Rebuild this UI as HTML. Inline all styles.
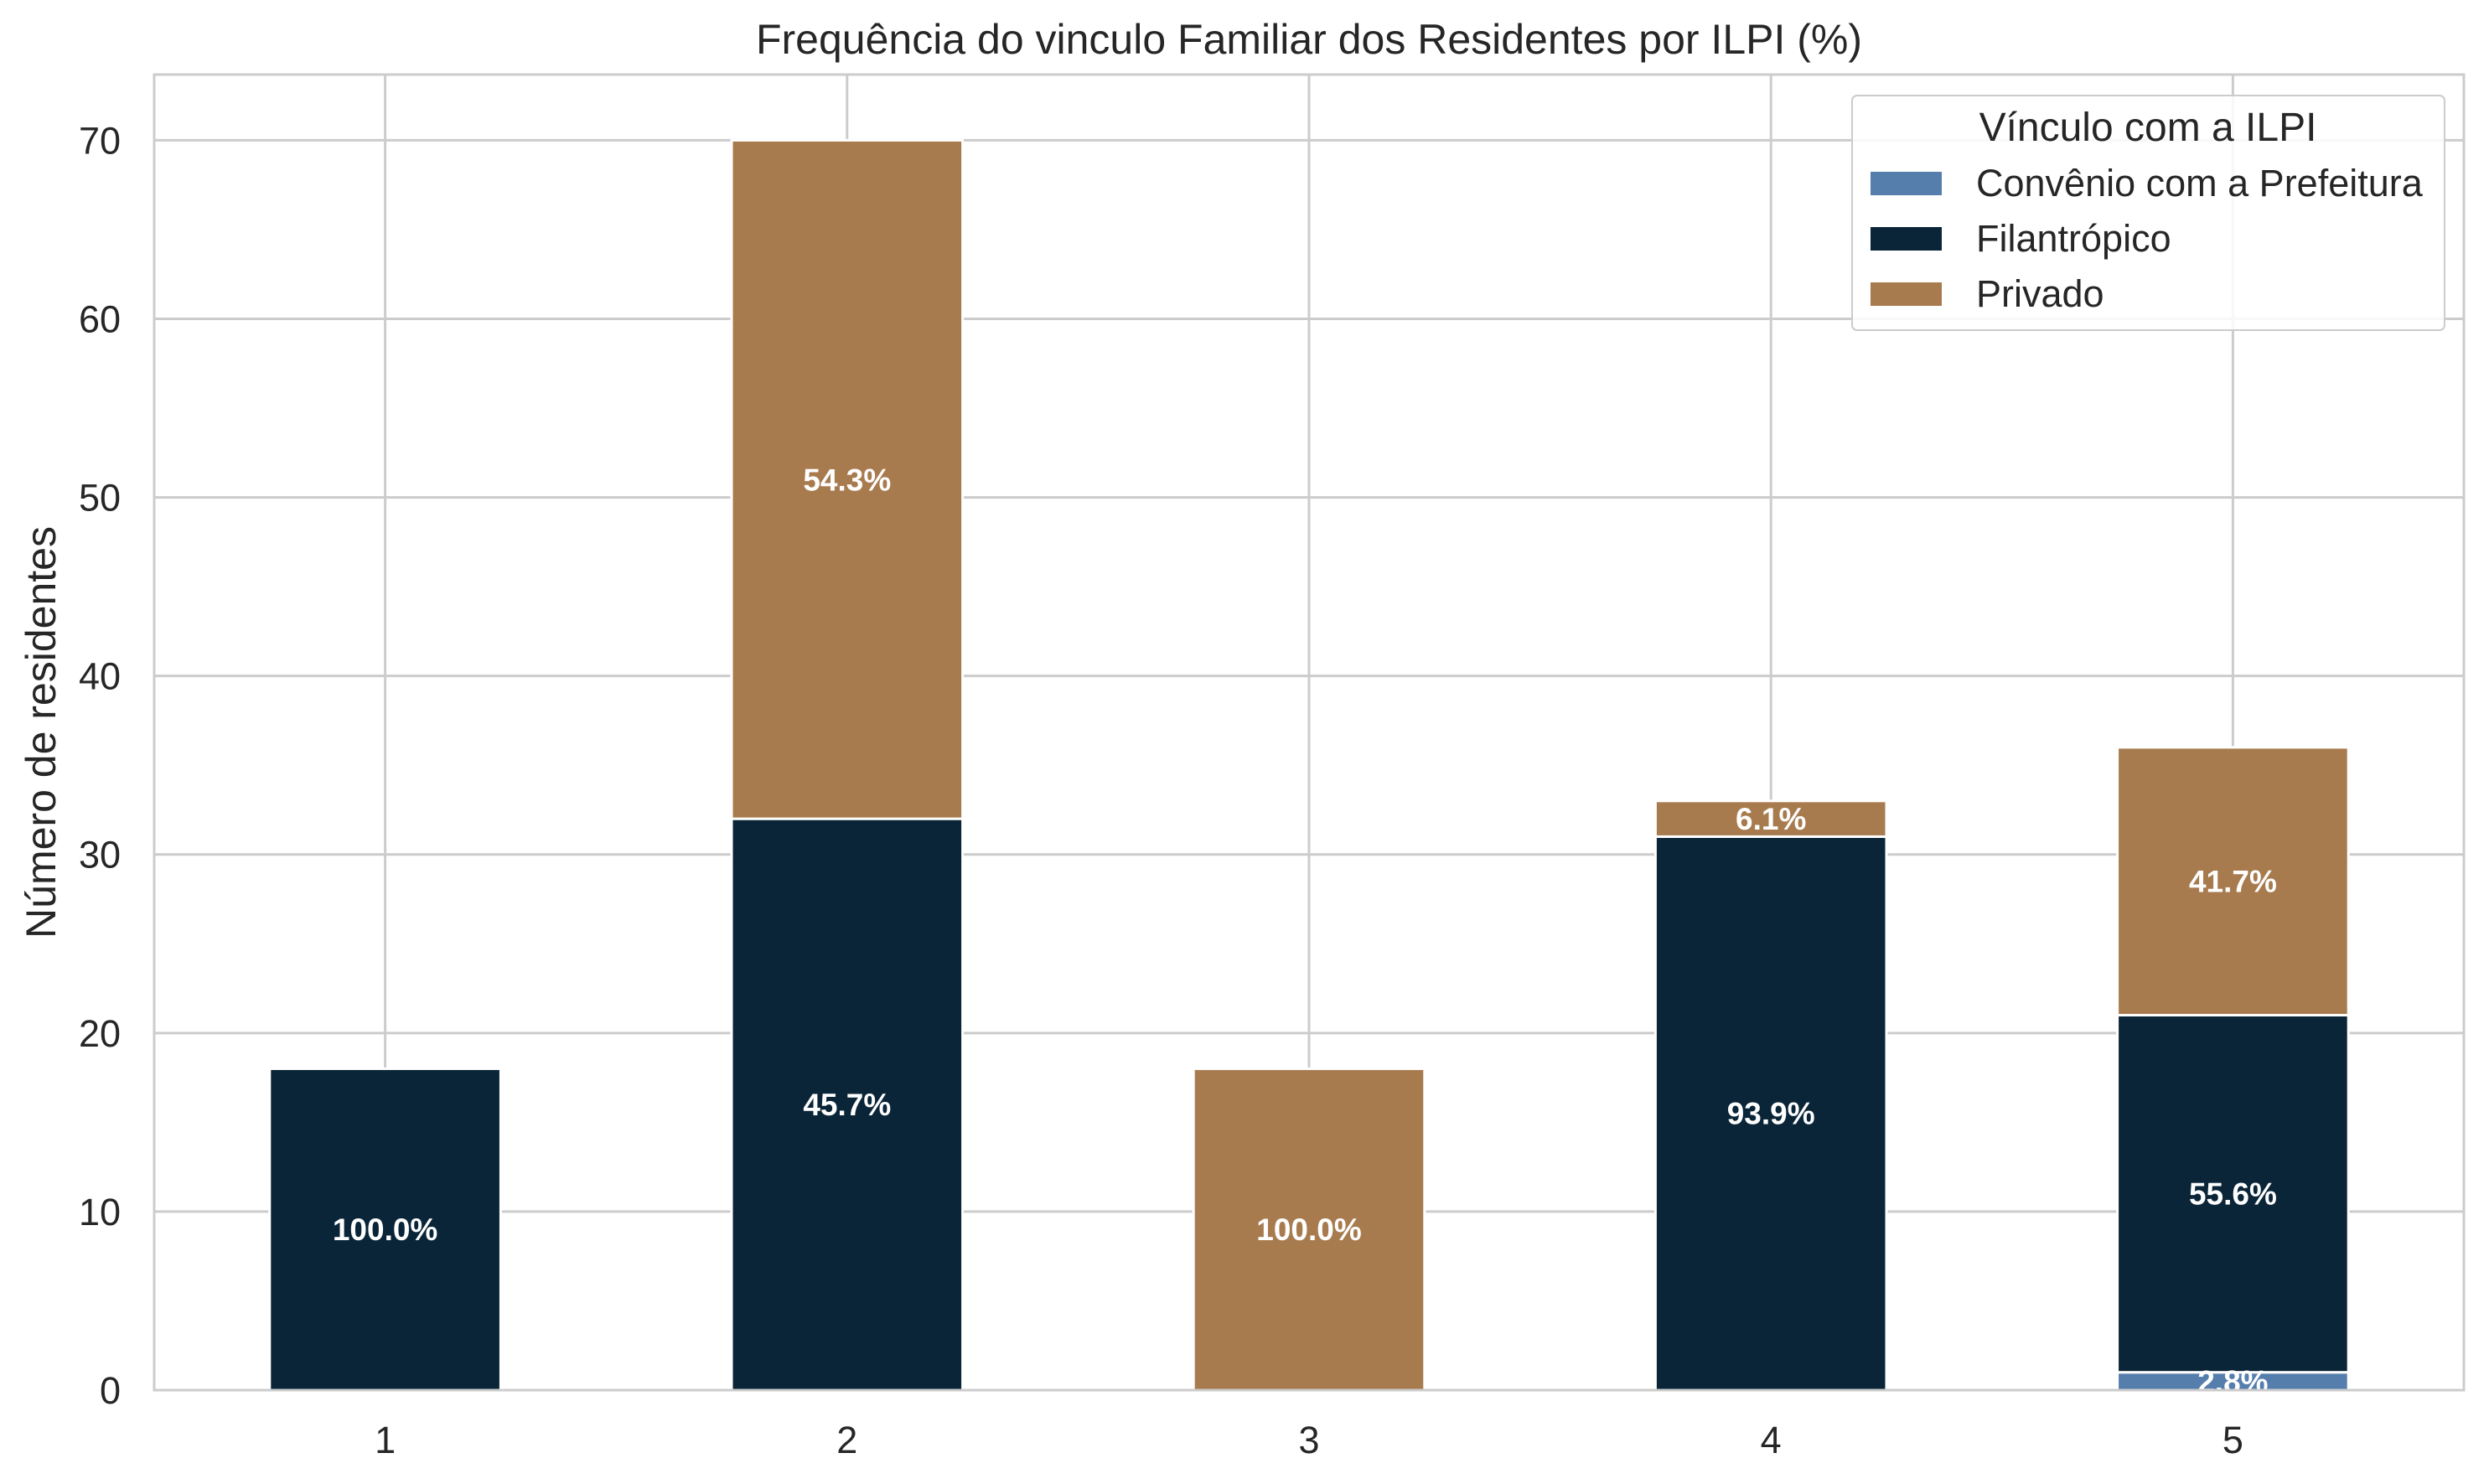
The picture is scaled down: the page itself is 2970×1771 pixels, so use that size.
<!DOCTYPE html>
<html><head><meta charset="utf-8"><style>
body{margin:0;background:#fff;}
svg{display:block;font-family:"Liberation Sans",Arial,sans-serif;}
</style></head><body>
<svg id="chart" width="2970" height="1771" viewBox="0 0 2970 1771">
<rect x="0" y="0" width="2970" height="1771" fill="#fff"/>
<g id="grid"></g>
<g id="bars"></g>
<g id="labels"></g>
<rect x="184" y="89" width="2756" height="1570" fill="none" stroke="#cccccc" stroke-width="3"/>
<g id="ticks"></g>
<text x="1562" y="64" text-anchor="middle" font-size="50" fill="#262626">Frequência do vinculo Familiar dos Residentes por ILPI (%)</text>
<text transform="translate(66,874) rotate(-90)" text-anchor="middle" font-size="50" fill="#262626">Número de residentes</text>
<g>
<rect x="2210" y="114" width="707" height="280" rx="6" fill="#fff" fill-opacity="0.85" stroke="#cccccc" stroke-width="2"/>
<text x="2563" y="168" text-anchor="middle" font-size="48" fill="#262626">Vínculo com a ILPI</text>
<g><rect x="2232" y="205" width="85" height="28" fill="#557ead"/><text x="2358" y="234" font-size="45" fill="#262626">Convênio com a Prefeitura</text></g>
<g><rect x="2232" y="271" width="85" height="28" fill="#0a2438"/><text x="2358" y="300" font-size="45" fill="#262626">Filantrópico</text></g>
<g><rect x="2232" y="337" width="85" height="28" fill="#a87b4f"/><text x="2358" y="366" font-size="45" fill="#262626">Privado</text></g>
</g>
</svg>
<script>
const categories = ["1","2","3","4","5"];
const convenio = [0,0,0,0,1];
const filantropico = [18,32,0,31,20];
const privado = [0,38,18,2,15];
const yTicks = [0,10,20,30,40,50,60,70];
const seriesColors = ["#557ead","#0a2438","#a87b4f"];
const seriesNames = ["convenio","filantropico","privado"];

const NS="http://www.w3.org/2000/svg";
const L=184,R=2940,T=89,B=1659,ymax=73.68;
function xs(i){return L+(i+0.5)*(R-L)/categories.length;}
function ys(v){return B-v*(B-T)/ymax;}
function mk(tag,attrs,parent){const e=document.createElementNS(NS,tag);for(const k in attrs)e.setAttribute(k,attrs[k]);document.getElementById(parent).appendChild(e);return e;}
yTicks.forEach(v=>{
  const g=mk("line",{x1:L,x2:R,y1:ys(v),y2:ys(v),stroke:"#cccccc","stroke-width":3},"grid");
  
  
  const t=mk("text",{x:L-40,y:ys(v)+16,"text-anchor":"end","font-size":45,fill:"#262626"},"ticks");
  t.textContent=v;
  
  
});
const bw=0.5*(R-L)/categories.length;
categories.forEach((c,i)=>{
  const g=mk("line",{x1:xs(i),x2:xs(i),y1:T,y2:B,stroke:"#cccccc","stroke-width":3},"grid");
  
  
  const t=mk("text",{x:xs(i),y:B+75,"text-anchor":"middle","font-size":45,fill:"#262626"},"ticks");
  t.textContent=c;
  
  
  const vals=[convenio[i],filantropico[i],privado[i]];
  const tot=vals.reduce((a,b)=>a+b,0);
  let base=0;
  vals.forEach((v,s)=>{
    if(v<=0)return;
    const r=mk("rect",{x:xs(i)-bw/2,y:ys(base+v),width:bw,height:ys(base)-ys(base+v),fill:seriesColors[s],stroke:"#fff","stroke-width":3},"bars");
    
    
    const lb=mk("text",{x:xs(i),y:ys(base+v/2)+13,"text-anchor":"middle","font-size":37,"font-weight":"bold",fill:"#fff"},"labels");
    lb.textContent=(v/tot*100).toFixed(1)+"%";
    
    
    base+=v;
  });
});
</script>
</body></html>
